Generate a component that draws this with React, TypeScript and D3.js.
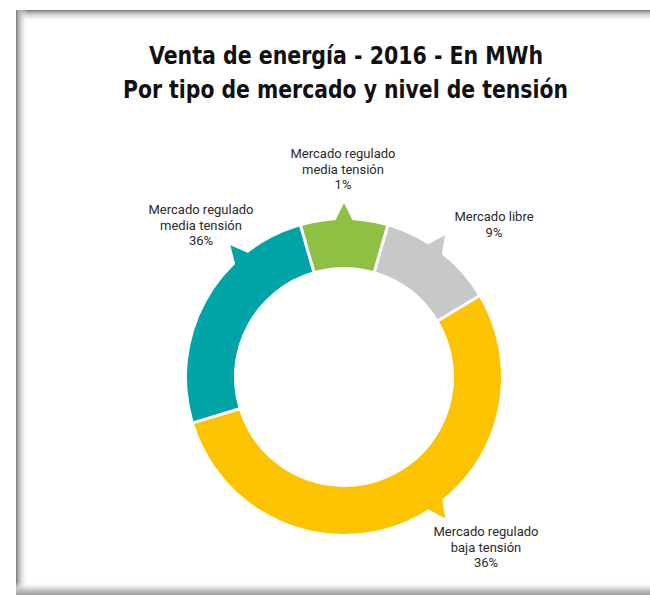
import React from "react";
import * as d3 from "d3";

// Venta de energía 2016 – slices as drawn in the ring (share of the circle)
const categories = [
  "Mercado regulado media tensión",
  "Mercado libre",
  "Mercado regulado baja tensión",
  "Mercado regulado media tensión",
];
const arcShares = [8.75, 11.8, 54.2, 25.25];
const labelPercents = ["1%", "9%", "36%", "36%"];
const labelLines = [
  ["Mercado regulado", "media tensión"],
  ["Mercado libre"],
  ["Mercado regulado", "baja tensión"],
  ["Mercado regulado", "media tensión"],
];
const sliceColors = ["#8dc043", "#c7c8ca", "#fcc400", "#00a4a7"];
const titleLines = [
  "Venta de energía - 2016 - En MWh",
  "Por tipo de mercado y nivel de tensión",
];

const W = 650;
const H = 595;
const cx = 344;
const cy = 377;
const outerR = 157;
const innerR = 110;
const startDeg = -16;

// callout pointer angle (deg, clockwise from top) and label anchor per slice
const pointerDeg = [0, 35.5, 144.4, 319.2];
const labelPos: [number, number][] = [
  [343, 158],
  [494, 221],
  [486, 536],
  [201, 214],
];

const rad = (d: number) => (d * Math.PI) / 180;

export default function App() {
  const data = arcShares.map((v, i) => ({
    name: categories[i],
    value: v,
    pct: labelPercents[i],
    lines: labelLines[i],
    color: sliceColors[i],
  }));

  const pie = d3
    .pie<any>()
    .value((d) => d.value)
    .sort(null)
    .startAngle(rad(startDeg))
    .endAngle(rad(startDeg + 360))
    .padAngle(0.016);

  const arc = d3.arc<any>().innerRadius(innerR).outerRadius(outerR);
  const slices = pie(data);

  const pointer = (deg: number) => {
    const a = rad(deg);
    const half = rad(3.7);
    const p1 = d3.pointRadial(a - half, outerR - 3);
    const p2 = d3.pointRadial(a, outerR + 17);
    const p3 = d3.pointRadial(a + half, outerR - 3);
    return `M${p1[0]},${p1[1]}L${p2[0]},${p2[1]}L${p3[0]},${p3[1]}Z`;
  };

  return (
    <svg
      width={W}
      height={H}
      style={{ position: "absolute", left: 0, top: 0, background: "#fff" }}
    >
      <defs>
        <linearGradient id="gTop" x1="0" y1="0" x2="0" y2="1">
          <stop offset="0" stopColor="#777" />
          <stop offset="0.15" stopColor="#a5a5a5" />
          <stop offset="1" stopColor="#fff" stopOpacity="0" />
        </linearGradient>
        <linearGradient id="gLeft" x1="0" y1="0" x2="1" y2="0">
          <stop offset="0" stopColor="#777" />
          <stop offset="0.15" stopColor="#a5a5a5" />
          <stop offset="1" stopColor="#fff" stopOpacity="0" />
        </linearGradient>
        <linearGradient id="gBottom" x1="0" y1="0" x2="0" y2="1">
          <stop offset="0" stopColor="#fff" stopOpacity="0" />
          <stop offset="0.6" stopColor="#c8c8c8" />
          <stop offset="1" stopColor="#999" />
        </linearGradient>
      </defs>

      {/* frame */}
      <rect x={16} y={10} width={W - 16} height={12} fill="url(#gTop)" />
      <rect x={16} y={10} width={12} height={H - 10} fill="url(#gLeft)" />
      <rect x={16} y={582} width={W - 16} height={13} fill="url(#gBottom)" />

      {/* title */}
      <g
        fontFamily="'DejaVu Sans Condensed', 'DejaVu Sans', sans-serif"
        fontWeight="bold"
        fontSize={24}
        fill="#111"
        textAnchor="middle"
      >
        <text x={346} y={64} textLength={394} lengthAdjust="spacingAndGlyphs">
          {titleLines[0]}
        </text>
        <text x={345.5} y={98} textLength={445} lengthAdjust="spacingAndGlyphs">
          {titleLines[1]}
        </text>
      </g>

      {/* donut */}
      <g transform={`translate(${cx},${cy})`}>
        {slices.map((s, i) => (
          <g key={i}>
            <path d={arc(s) as string} fill={s.data.color} />
            <path d={pointer(pointerDeg[i])} fill={s.data.color} />
          </g>
        ))}
      </g>

      {/* labels */}
      <g
        fontFamily="Roboto, sans-serif"
        fontSize={13}
        fill="#2a2a2a"
        textAnchor="middle"
      >
        {data.map((d, i) => (
          <text key={i} x={labelPos[i][0]} y={labelPos[i][1]}>
            {[...d.lines, d.pct].map((t, j) => (
              <tspan key={j} x={labelPos[i][0]} dy={j === 0 ? 0 : 15.5}>
                {t}
              </tspan>
            ))}
          </text>
        ))}
      </g>
    </svg>
  );
}
